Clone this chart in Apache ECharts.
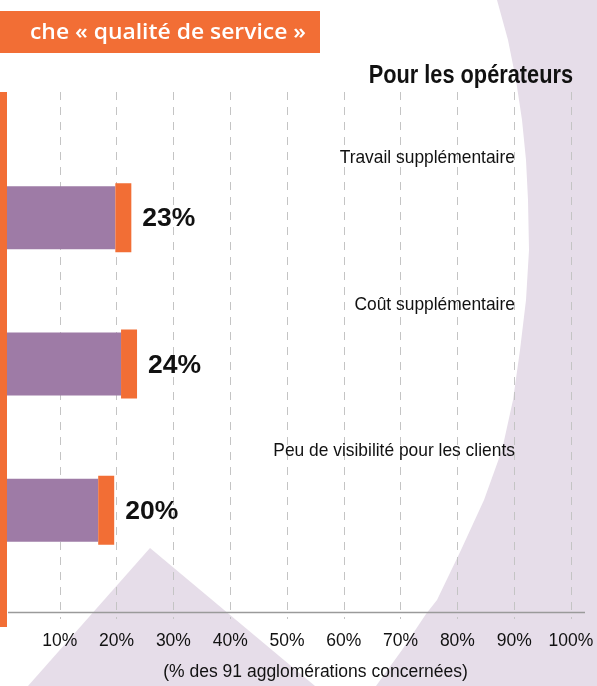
<!DOCTYPE html>
<html><head><meta charset="utf-8">
<script src="https://cdn.jsdelivr.net/npm/echarts@6/dist/echarts.min.js"></script>
<style>html,body{margin:0;padding:0;background:#fff}#c{width:597px;height:686px}</style>
</head><body><div id="c"></div>
<script>
const categories = ['Travail supplémentaire', 'Coût supplémentaire', 'Peu de visibilité pour les clients'];
const values = [23, 24, 20];
const tickLabels = ['', '10%', '20%', '30%', '40%', '50%', '60%', '70%', '80%', '90%', '100%'];
const headerText = 'che « qualité de service »';
const titleText = 'Pour les opérateurs';
const axisTitle = '(% des 91 agglomérations concernées)';

const SANS = '"Liberation Sans", Arial, sans-serif';
const PURPLE = '#9E7BA6', ORANGE = '#F26E35', LAV = '#E6DDE9';

// decorative background shapes
const curvePts = [[497, 0], [508, 40], [516, 80], [522, 120], [526, 160], [528, 200], [529, 250],
  [526, 300], [520, 350], [513, 400], [502, 450], [484, 500], [461, 550], [437, 600], [426, 614],
  [402, 650], [376, 686], [597, 686], [597, 0]];

const chart = echarts.init(document.getElementById('c'), null, {renderer: 'canvas'});
chart.setOption({
  backgroundColor: '#fff',
  animation: false,
  graphic: [
    {type: 'polygon', z: -10, shape: {points: curvePts}, style: {fill: LAV}},
    {type: 'polygon', z: -10, shape: {points: [[150, 548], [28, 686], [315, 686]]}, style: {fill: LAV}},
    {type: 'rect', shape: {x: 0, y: 11, width: 320, height: 42}, style: {fill: ORANGE}},
    {type: 'text', x: 30, y: 33, scaleX: 1.04, style: {text: headerText, fill: '#fff', font: '600 22px "Open Sans", Lato, sans-serif', verticalAlign: 'middle'}},
    {type: 'text', x: 573, y: 76, scaleX: 0.87, style: {text: titleText, fill: '#111', font: 'bold 25px ' + SANS, align: 'right', verticalAlign: 'middle'}},
    {type: 'line', z: 5, shape: {x1: 8, y1: 612.5, x2: 585, y2: 612.5}, style: {stroke: '#9a9a9a', lineWidth: 1.5}},
    {type: 'rect', z: 10, shape: {x: 0, y: 92, width: 7, height: 535}, style: {fill: ORANGE}}
  ],
  grid: [
    {left: 0, right: 26, top: 92, bottom: 58},
    {left: 0, right: 26, top: 144, bottom: 103}
  ],
  xAxis: [
    {type: 'value', gridIndex: 0, min: 0, max: 100, interval: 10,
     axisLine: {show: false}, axisTick: {show: false},
     splitLine: {show: true, lineStyle: {color: '#c4c4c4', type: [8, 7], width: 1}},
     axisLabel: {margin: 13, color: '#111', fontSize: 17.5, fontFamily: SANS,
       formatter: (v) => tickLabels[Math.round(v / 10)]},
     name: axisTitle, nameLocation: 'middle', nameGap: 44,
     nameTextStyle: {color: '#111', fontSize: 17.5, fontFamily: SANS, padding: [0, 0, 0, 57]}},
    {type: 'value', gridIndex: 1, min: 0, max: 100, show: false}
  ],
  yAxis: [
    {type: 'category', gridIndex: 0, data: categories, inverse: true, show: false},
    {type: 'category', gridIndex: 1, data: categories, inverse: true, show: false}
  ],
  series: [{
    type: 'custom', xAxisIndex: 1, yAxisIndex: 1,
    data: values.map((v, i) => [v, i]),
    encode: {x: 0, y: 1},
    renderItem: function (params, api) {
      const v = api.value(0), i = api.value(1);
      const s = api.coord([0, i]), e = api.coord([v, i]);
      const g = api.coord([90, i]);
      const cap = 16;
      return {type: 'group', children: [
        {type: 'rect', shape: {x: s[0], y: s[1] - 31, width: e[0] - cap - s[0], height: 63}, style: {fill: PURPLE}},
        {type: 'rect', shape: {x: e[0] - cap, y: s[1] - 34, width: cap, height: 69}, style: {fill: ORANGE}},
        {type: 'text', x: e[0] + 11, y: s[1] + 2, style: {text: v + '%', fill: '#111', font: 'bold 26.5px ' + SANS, verticalAlign: 'middle'}},
        {type: 'text', x: g[0] + 1, y: s[1] - 59, scaleX: 0.915, style: {text: categories[i], fill: '#111', font: '19px ' + SANS, align: 'right', verticalAlign: 'middle'}}
      ]};
    }
  }]
});
</script></body></html>
